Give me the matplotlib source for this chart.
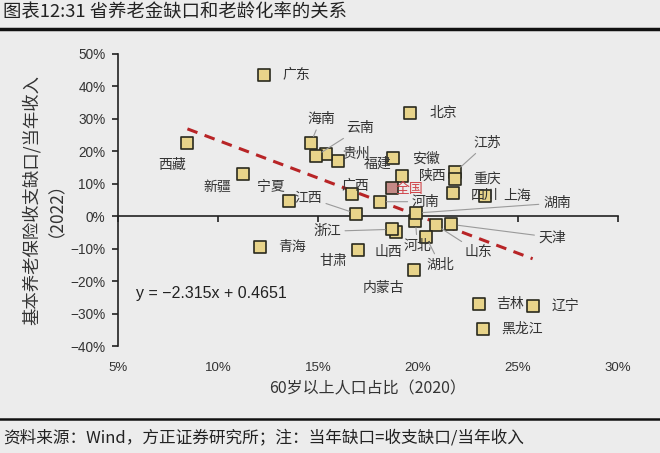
import matplotlib
matplotlib.use("Agg")
import matplotlib.pyplot as plt
import numpy as np
from matplotlib.ticker import FuncFormatter

plt.rcParams['font.family'] = ['Noto Sans CJK SC', 'DejaVu Sans']

# 60岁以上人口占比(2020), 当年缺口(2022), in %
provinces = ['北京', '天津', '河北', '山西', '内蒙古', '辽宁', '吉林', '黑龙江',
             '上海', '江苏', '浙江', '安徽', '福建', '江西', '山东', '河南',
             '湖北', '湖南', '广东', '广西', '海南', '重庆', '四川', '贵州',
             '云南', '西藏', '陕西', '甘肃', '青海', '宁夏', '新疆']
aging = [19.6, 21.67, 19.87, 18.9, 19.78, 25.73, 23.07, 23.23,
         23.37, 21.87, 18.7, 18.77, 16.0, 16.9, 20.9, 18.08,
         20.4, 19.89, 12.3, 16.7, 14.64, 21.87, 21.73, 15.38,
         14.9, 8.47, 19.2, 17.0, 12.1, 13.53, 11.27]
gap = [31.9, -2.5, -1.35, -4.7, -16.5, -27.5, -27.1, -34.7,
       6.25, 13.7, -4.0, 17.85, 16.9, 0.86, -2.7, 4.5,
       -6.3, 1.0, 43.5, 7.0, 22.6, 11.4, 7.1, 19.3,
       18.6, 22.55, 12.4, -10.4, -9.35, 4.7, 13.0]
nation_x, nation_y = 18.7, 8.6

slope, intercept = -2.315, 0.4651

# label offsets in pixels (dx, dy) and whether a leader line is drawn
label_pos = {
    '北京': (33, 0, False), '天津': (101, -13, True), '河北': (2, -25, True),
    '山西': (-8, -20, False), '内蒙古': (-30, -18, False), '辽宁': (33, 0, False),
    '吉林': (31, 0, False), '黑龙江': (39, 0, False), '上海': (32, 0, False),
    '江苏': (32, 29, True), '浙江': (-65, -2, True), '安徽': (32, 0, False),
    '福建': (40, -2, False), '江西': (-48, 16, True), '山东': (42, -27, True),
    '河南': (46, 0, True), '湖北': (14, -28, True), '湖南': (141, 10, True),
    '广东': (32, 0, False), '广西': (3, 8, False), '海南': (10, 24, True),
    '重庆': (32, 0, False), '四川': (32, -2, False), '贵州': (31, 0, False),
    '云南': (44, 28, True), '西藏': (-15, -22, False), '陕西': (31, 0, False),
    '甘肃': (-25, -11, False), '青海': (32, 0, False), '宁夏': (-18, 14, False),
    '新疆': (-26, -13, False),
}

bg = '#ECECEC'
fig = plt.figure(figsize=(6.6, 4.53), dpi=100, facecolor=bg)
ax = fig.add_axes([0.1788, 0.2355, 0.7576, 0.6457], facecolor=bg)

# trend line over the data range
xs = np.array([min(aging), max(aging)])
ax.plot(xs, (slope * xs / 100 + intercept) * 100, color='#B82426',
        lw=2.2, ls=(0, (3.5, 2.5)), zorder=2)

ax.scatter(aging, gap, marker='s', s=64, facecolor='#E8D48A',
           edgecolor='#2A2A1E', linewidth=1.2, zorder=3)
ax.scatter([nation_x], [nation_y], marker='s', s=64, facecolor='#C48A86',
           edgecolor='#2A2A1E', linewidth=1.2, zorder=3)

for name, x, y in zip(provinces, aging, gap):
    dx, dy, line = label_pos[name]
    props = None
    if line:
        props = dict(arrowstyle='-', color='#9A9A9A', lw=0.8,
                     shrinkA=1, shrinkB=5)
    ax.annotate(name, (x, y), xytext=(dx, dy), textcoords='offset pixels',
                ha='center', va='center', fontsize=10, color='#333333',
                arrowprops=props, zorder=4)
ax.annotate('全国', (nation_x, nation_y), xytext=(18, -1),
            textcoords='offset pixels', ha='center', va='center',
            fontsize=10, color='#D0454A', zorder=4)

ax.set_xlim(5, 30)
ax.set_ylim(-40, 50)
ax.set_xticks(np.arange(5, 31, 5))
ax.set_yticks(np.arange(-40, 51, 10))
pct = FuncFormatter(lambda v, p: f'{v:.0f}%'.replace('-', '\u2212'))
ax.xaxis.set_major_formatter(pct)
ax.yaxis.set_major_formatter(pct)

for s in ['top', 'right', 'bottom']:
    ax.spines[s].set_visible(False)
ax.spines['left'].set_color('#222222')
ax.spines['left'].set_linewidth(1.2)
ax.tick_params(axis='y', direction='out', length=4, width=1.2,
               color='#222222', labelsize=9.8, labelcolor='#333333', pad=5)
ax.tick_params(axis='x', length=0, labelsize=9.5, labelcolor='#333333', pad=11)
for lab in ax.get_xticklabels() + ax.get_yticklabels():
    lab.set_family(['Liberation Sans', 'DejaVu Sans'])

# x axis drawn at y = 0
zero = ax.secondary_xaxis(40 / 90)
zero.set_xticks(np.arange(5, 31, 5))
zero.tick_params(axis='x', direction='out', length=4, width=1.2,
                 color='#222222', labelbottom=False, labeltop=False)
zero.spines['bottom'].set_color('#222222')
zero.spines['bottom'].set_linewidth(1.2)
zero.xaxis.set_ticks_position('bottom')
zero.set_xticklabels([])

ax.set_xlabel('60岁以上人口占比（2020）', fontsize=11.5, color='#333333',
              labelpad=5)
ax.set_ylabel('基本养老保险收支缺口/当年收入\n（2022）', fontsize=12.5,
              color='#333333', labelpad=10, linespacing=0.8)

ax.text(0.035, 0.18, 'y = \u22122.315x + 0.4651', transform=ax.transAxes,
        fontsize=11.5, color='#222222', ha='left', va='center',
        family=['Liberation Sans', 'DejaVu Sans'])

fig.text(0.005, 0.972, '图表12:31 省养老金缺口和老龄化率的关系', fontsize=13.2,
         color='#222222', ha='left', va='center')
fig.add_artist(plt.Line2D([0, 1], [0.937, 0.937], color='#111111', lw=2.5))
fig.add_artist(plt.Line2D([0, 1], [0.075, 0.075], color='#111111', lw=1.8))
fig.text(0.005, 0.033, '资料来源：Wind，方正证券研究所；注：当年缺口=收支缺口/当年收入',
         fontsize=12, color='#222222', ha='left', va='center', style='italic')

fig.savefig('out.png', dpi=100, facecolor=bg)
